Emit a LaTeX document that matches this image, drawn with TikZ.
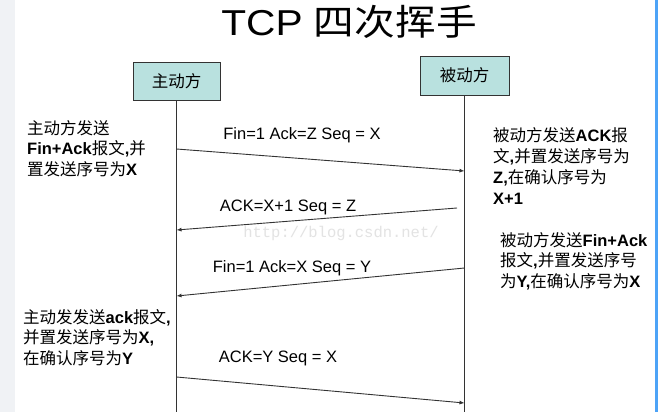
\documentclass[tikz,border=0pt]{standalone}
\usepackage{graphicx}
\usepackage{fontspec}
\setmainfont{Liberation Sans}
\newfontfamily\cjk{Noto Sans CJK SC}
\newfontfamily\urlfont{Liberation Mono}
\usetikzlibrary{arrows.meta}
\definecolor{boxfill}{HTML}{B9E1DF}
\definecolor{lineclr}{HTML}{333333}
\definecolor{stripgray}{HTML}{F0F2F5}
\definecolor{stripblue}{HTML}{4DA3F7}
\newcommand{\en}[1]{{\normalfont\bfseries #1}}

\begin{document}
\begin{tikzpicture}[x={(1pt,0pt)},y={(0pt,-1pt)},
  party/.style={draw=lineclr, fill=boxfill, line width=0.9pt, inner sep=0pt, font=\cjk\fontsize{16.5}{18}\selectfont},
  msg/.style={draw=lineclr, line width=0.9pt, -{Latex[length=5pt,width=4pt]}},
  life/.style={draw=lineclr, line width=0.9pt},
  note/.style={anchor=north west, align=left, inner sep=0pt, font=\cjk\fontsize{16.5}{20.5}\selectfont},
  lbl/.style={inner sep=0pt, font=\fontsize{16.5}{19}\selectfont}]
\useasboundingbox (0,0) rectangle (658,412);
\fill[white] (0,0) rectangle (658,412);
\fill[stripgray] (0,0) rectangle (15,412);
\fill[stripblue] (655,0) rectangle (658,412);

\node[inner sep=0pt] (title) at (349,22) {\scalebox{1.13}[1]{\fontsize{36}{40}\selectfont TCP {\cjk 四次挥手}}};

\node[party, minimum width=87pt, minimum height=38pt] (zd) at (176.5,81) {主动方};
\node[party, minimum width=89pt, minimum height=39pt] (bd) at (464.5,75.5) {被动方};
\coordinate (zdend) at (176.5,412);
\coordinate (bdend) at (464.5,412);
\draw[life] (zd.south) -- (zdend);
\draw[life] (bd.south) -- (bdend);

% message ends on the two lifelines
\coordinate (m1s) at (176.5,149);
\coordinate (m1e) at (464.5,171);
\coordinate (m2s) at (457,208);
\coordinate (m2e) at (176.5,230);
\coordinate (m3s) at (464.5,268);
\coordinate (m3e) at (176.5,296);
\coordinate (m4s) at (176.5,377);
\coordinate (m4e) at (464.5,403);
\draw[msg] (m1s) -- (m1e);
\draw[msg] (m2s) -- (m2e);
\draw[msg] (m3s) -- (m3e);
\draw[msg] (m4s) -- (m4e);

\node[lbl] (l1) at (302,135) {Fin=1 Ack=Z Seq = X};
\node[lbl] (l2) at (288,207) {ACK=X+1 Seq = Z};
\node[lbl] (l3) at (292,268) {Fin=1 Ack=X Seq = Y};
\node[lbl] (l4) at (278,358) {ACK=Y Seq = X};

\node[text=gray!22, inner sep=0pt, font=\urlfont\fontsize{15.5}{18}\selectfont] (wm) at (341,233) {http://blog.csdn.net/};

\node[note] (n1) at (27,120) {主动方发送\\\en{Fin+Ack}报文\en{,}并\\置发送序号为\en{X}};
\node[note, font=\cjk\fontsize{16.5}{21}\selectfont] (n2) at (493,127) {被动方发送\en{ACK}报\\文\en{,}并置发送序号为\\\en{Z,}在确认序号为\\\en{X+1}};
\node[note] (n3) at (500,232) {被动方发送\en{Fin+Ack}\\报文\en{,}并置发送序号\\为\en{Y,}在确认序号为\en{X}};
\node[note] (n4) at (23,309) {主动发发送\en{ack}报文\en{,}\\并置发送序号为\en{X,}\\在确认序号为\en{Y}};
\end{tikzpicture}
\end{document}
